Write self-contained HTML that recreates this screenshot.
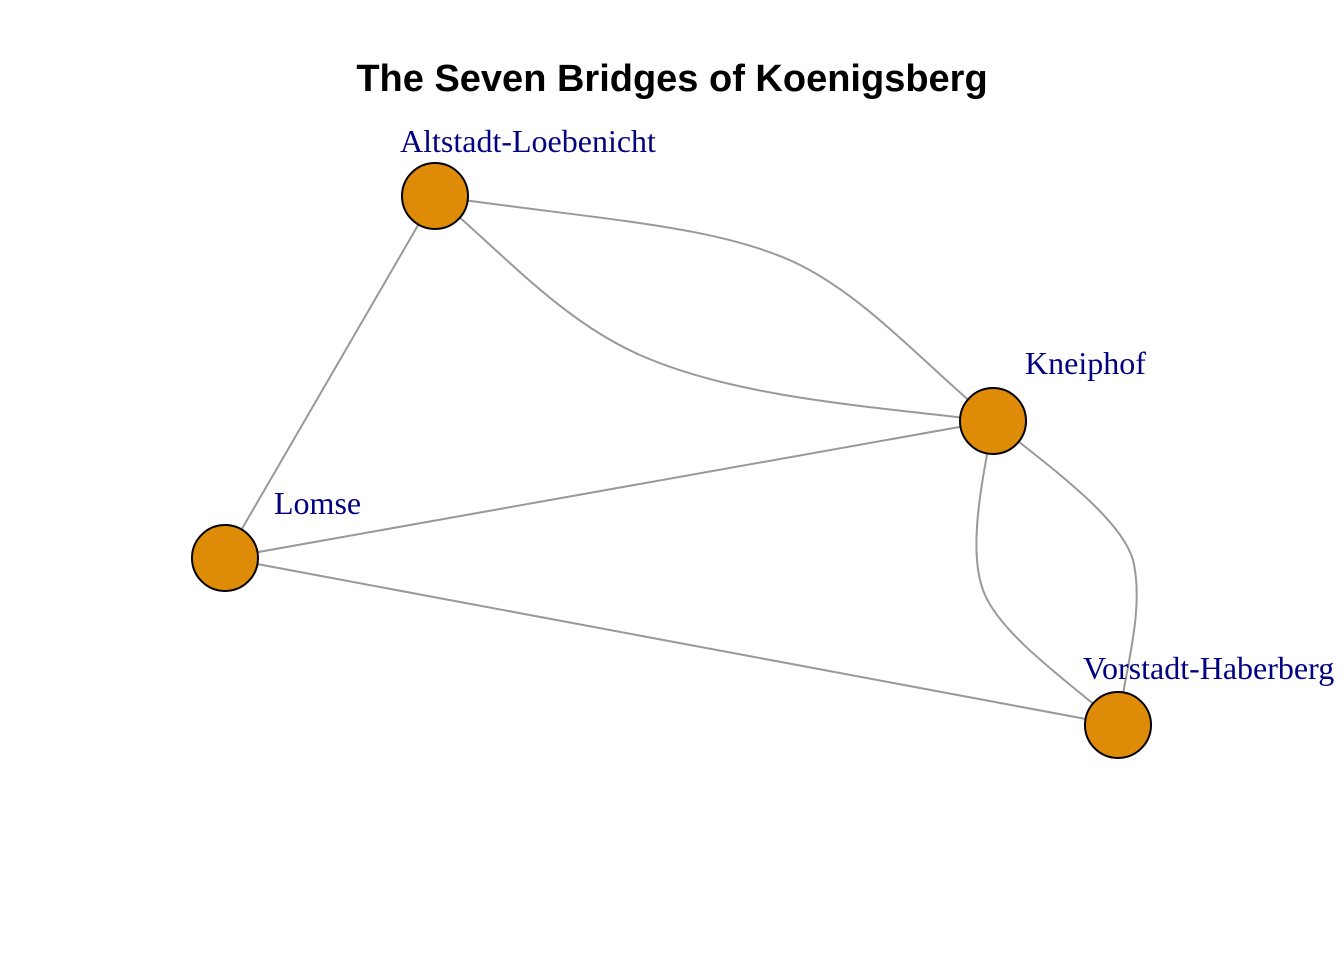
<!DOCTYPE html>
<html><head><meta charset="utf-8"><style>
html,body{margin:0;padding:0;background:#fff;}
svg{display:block;}
</style></head><body>
<svg width="1344" height="960" viewBox="0 0 1344 960" xmlns="http://www.w3.org/2000/svg">
<rect width="1344" height="960" fill="#fff"/>
<text x="672" y="91" text-anchor="middle" font-family="Liberation Sans, sans-serif" font-weight="bold" font-size="38">The Seven Bridges of Koenigsberg</text>
<g stroke="#999" stroke-width="2" fill="none">
<path d="M435,196 L225,558"/>
<path d="M435,196 C600,220 720,225 800,265 C870,300 930,370 993,421"/>
<path d="M435,196 C500,250 560,320 640,355 C730,395 850,405 993,421"/>
<path d="M993,421 L225,558"/>
<path d="M225,558 L1118,725"/>
<path d="M993,421 C985,470 965,550 985,595 C1005,640 1080,690 1118,725"/>
<path d="M993,421 C1040,460 1120,515 1133,560 C1145,610 1125,670 1118,725"/>
</g>
<g fill="#de8c08" stroke="#000" stroke-width="2">
<circle cx="435" cy="196" r="33"/>
<circle cx="993" cy="421" r="33"/>
<circle cx="225" cy="558" r="33"/>
<circle cx="1118" cy="725" r="33"/>
</g>
<g font-family="Liberation Serif, serif" font-size="32" fill="#000080">
<text x="400" y="152">Altstadt-Loebenicht</text>
<text x="1025" y="374">Kneiphof</text>
<text x="274" y="514">Lomse</text>
<text x="1083" y="679">Vorstadt-Haberberg</text>
</g>
</svg>
</body></html>
